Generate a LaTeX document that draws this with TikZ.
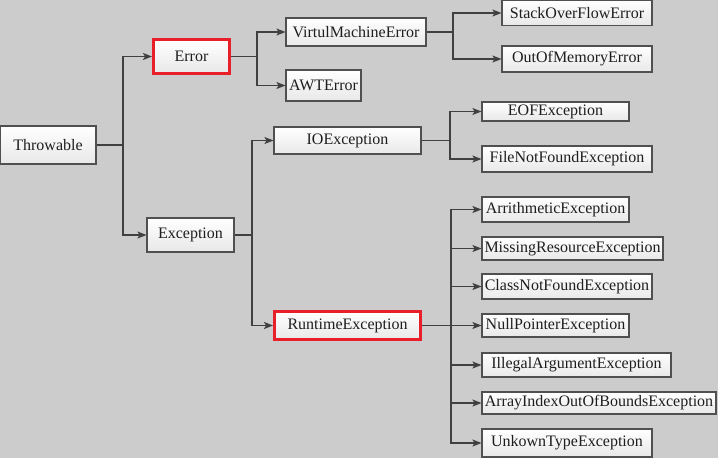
\documentclass[tikz,border=0pt]{standalone}
\usepackage{fontspec}
\setmainfont{Liberation Serif}
\usetikzlibrary{arrows.meta}
\definecolor{bgc}{RGB}{204,204,204}
\definecolor{linec}{RGB}{64,64,64}
\definecolor{boxb}{RGB}{80,80,80}
\definecolor{redb}{RGB}{232,30,40}
\definecolor{boxbot}{RGB}{232,232,232}
\definecolor{txt}{RGB}{30,30,30}
\tikzset{
  cls/.style={draw=boxb, line width=1.1pt, top color=white, bottom color=boxbot,
    inner sep=0pt, align=center, text=txt, font=\fontsize{16}{18}\selectfont},
  hot/.style={cls, draw=redb, line width=3pt},
  arr/.style={draw=linec, line width=1.3pt, -{Stealth[length=9pt,width=7pt,inset=2pt]}},
  ln/.style={draw=linec, line width=1.3pt}
}
\begin{document}
\begin{tikzpicture}[x=1pt,y=-1pt]
\fill[bgc] (0,0) rectangle (718,458);
\useasboundingbox (0,0) rectangle (718,458);
% nodes
\node[cls, minimum width=96pt, minimum height=38pt] (thr) at (48,145) {Throwable};
\node[hot, minimum width=76pt, minimum height=34pt] (err) at (191.5,56.5) {Error};
\node[cls, minimum width=140pt, minimum height=28pt] (vm) at (356,32) {VirtulMachineError};
\node[cls, minimum width=75pt, minimum height=31pt] (awt) at (323.5,85.5) {AWTError};
\node[cls, minimum width=150pt, minimum height=25pt] (sof) at (577,13) {StackOverFlowError};
\node[cls, minimum width=150pt, minimum height=26pt] (oom) at (577,59) {OutOfMemoryError};
\node[cls, minimum width=147pt, minimum height=27pt] (io) at (347.5,140.5) {IOException};
\node[cls, minimum width=147pt, minimum height=19pt] (eof) at (555.5,111.5) {EOFException};
\node[cls, minimum width=170pt, minimum height=26pt] (fnf) at (567,159) {FileNotFoundException};
\node[cls, minimum width=87pt, minimum height=34pt] (exc) at (190.5,235) {Exception};
\node[hot, minimum width=146pt, minimum height=28pt] (rte) at (347.5,325.5) {RuntimeException};
\node[cls, minimum width=147pt, minimum height=25pt] (ari) at (555.5,209.5) {ArrithmeticException};
\node[cls, minimum width=181pt, minimum height=23pt] (mis) at (572.5,248.5) {MissingResourceException};
\node[cls, minimum width=170pt, minimum height=25pt] (cnf) at (567,286.5) {ClassNotFoundException};
\node[cls, minimum width=147pt, minimum height=23pt] (npe) at (555.5,325.5) {NullPointerException};
\node[cls, minimum width=189pt, minimum height=24pt] (iae) at (576.5,365) {IllegalArgumentException};
\node[cls, minimum width=234pt, minimum height=22pt] (aio) at (599,403) {ArrayIndexOutOfBoundsException};
\node[cls, minimum width=170pt, minimum height=28pt] (ute) at (567,443) {UnkownTypeException};
% junctions
\coordinate (j1) at (123,145);
\coordinate (j2) at (257,56.5);
\coordinate (j3) at (453,32);
\coordinate (j4) at (252,235);
\coordinate (j5) at (450,140.5);
\coordinate (j6) at (451,325.5);
% connectors
\draw[ln] (thr.east) -- (j1);
\draw[arr] (j1) |- (err.west);
\draw[arr] (j1) |- (exc.west);
\draw[ln] (err.east) -- (j2);
\draw[arr] (j2) |- (vm.west);
\draw[arr] (j2) |- (awt.west);
\draw[ln] (vm.east) -- (j3);
\draw[arr] (j3) |- (sof.west);
\draw[arr] (j3) |- (oom.west);
\draw[ln] (exc.east) -- (j4);
\draw[arr] (j4) |- (io.west);
\draw[arr] (j4) |- (rte.west);
\draw[ln] (io.east) -- (j5);
\draw[arr] (j5) |- (eof.west);
\draw[arr] (j5) |- (fnf.west);
\draw[ln] (rte.east) -- (j6);
\draw[arr] (j6) |- (ari.west);
\draw[arr] (j6) |- (mis.west);
\draw[arr] (j6) |- (cnf.west);
\draw[arr] (j6) -- (npe.west);
\draw[arr] (j6) |- (iae.west);
\draw[arr] (j6) |- (aio.west);
\draw[arr] (j6) |- (ute.west);
\end{tikzpicture}
\end{document}
